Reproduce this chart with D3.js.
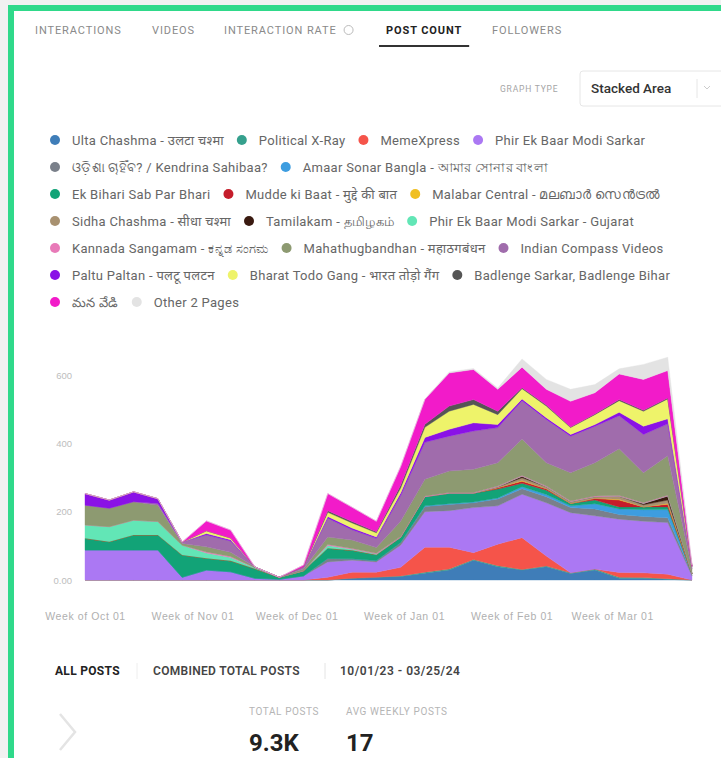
<!DOCTYPE html>
<html>
<head>
<meta charset="utf-8">
<script src="https://cdn.jsdelivr.net/npm/d3@7"></script>
<style>
  html, body { margin: 0; padding: 0; background: #f1f1f1; }
  svg { display: block; font-family: Roboto, "Noto Sans", "Open Sans", sans-serif; }
</style>
</head>
<body>
<svg id="chart" width="721" height="758"></svg>
<script>
// Weekly post counts per page, Oct 2023 – Mar 2024
const weekStarts = d3.timeWeek.range(new Date(2023, 9, 1), new Date(2024, 2, 25));

const seriesNames = [
  "Ulta Chashma - उलटा चश्मा",
  "Political X-Ray",
  "MemeXpress",
  "Phir Ek Baar Modi Sarkar",
  "ଓଡ଼ିଶା ଚାହିଁବ? / Kendrina Sahibaa?",
  "Amaar Sonar Bangla - আমার সোনার বাংলা",
  "Ek Bihari Sab Par Bhari",
  "Mudde ki Baat - मुद्दे की बात",
  "Malabar Central - മലബാർ സെൻട്രൽ",
  "Sidha Chashma - सीधा चश्मा",
  "Tamilakam - தமிழகம்",
  "Phir Ek Baar Modi Sarkar - Gujarat",
  "Kannada Sangamam - ಕನ್ನಡ ಸಂಗಮ",
  "Mahathugbandhan - महाठगबंधन",
  "Indian Compass Videos",
  "Paltu Paltan - पलटू पलटन",
  "Bharat Todo Gang - भारत तोड़ो गैंग",
  "Badlenge Sarkar, Badlenge Bihar",
  "మన వేడి",
  "Other 2 Pages"
];

const seriesColors = [
  "#3f7db8", "#35a08d", "#f5544a", "#ab78f3", "#7a808a",
  "#3d9de0", "#12a377", "#c51d2b", "#f0bf22", "#a89170",
  "#3a1a10", "#62e6b6", "#e87ab8", "#8d9a71", "#a06cac",
  "#8a12e6", "#eef36a", "#555555", "#f21bc9", "#e3e3e3"
];

// one array per page, one value per week
const ultaChashma      = [0,0,0,0,0,0,0,0,0,0,0,5,8,10,20,29,58,39,29,39,19,29,5,5,2,0];
const politicalXRay    = [0,0,0,0,0,0,0,0,0,0,0,0,0,2,3,3,2,3,2,2,2,3,3,2,2,0];
const memeXpress       = [0,0,0,0,0,0,0,0,0,0,8,18,15,25,73,64,20,63,93,29,0,0,14,14,13,0];
const phirEkBaar       = [88,88,88,88,8,29,24,5,2,12,45,35,30,65,104,107,132,112,127,156,176,156,156,151,151,12];
const odiaPage         = [0,0,0,0,0,0,0,0,0,0,10,4,4,8,15,18,14,20,16,18,15,20,14,14,14,6];
const amaarSonarBangla = [0,0,0,0,0,0,0,0,0,0,0,0,0,0,2,2,2,3,6,6,5,15,16,20,24,0];
const ekBihari         = [34,24,44,44,65,35,32,28,6,15,30,25,17,15,27,31,26,26,10,13,7,11,6,8,8,0];
const muddeKiBaat      = [0,0,0,0,0,0,0,0,0,0,0,0,0,0,0,0,0,4,6,4,0,5,20,0,8,0];
const malabarCentral   = [0,0,0,0,0,0,0,0,0,0,0,0,0,0,0,0,0,0,2,0,0,0,2,0,2,0];
const sidhaChashma     = [0,0,0,0,0,0,0,0,0,0,0,0,0,0,0,0,0,3,8,6,5,5,9,6,10,0];
const tamilakam        = [0,0,0,0,0,0,0,0,0,0,0,0,0,0,0,0,0,0,5,0,0,0,0,4,12,0];
const phirEkBaarGuj    = [39,44,43,39,29,15,10,3,0,0,8,3,2,0,0,0,0,0,0,0,0,0,0,0,0,0];
const kannadaSangamam  = [0,0,0,0,0,3,3,0,0,0,3,2,2,2,2,2,2,2,2,2,2,2,2,2,2,2];
const mahathugbandhan  = [58,54,54,48,5,15,12,2,0,5,22,25,17,45,49,63,68,68,107,68,83,97,137,88,116,12];
const indianCompass    = [0,0,0,5,4,35,33,0,0,7,55,30,27,75,108,102,112,103,112,127,107,107,97,112,93,8];
const paltuPaltan      = [34,24,29,14,0,4,4,0,0,0,5,5,4,8,14,20,24,9,5,5,5,5,10,24,15,0];
const bharatTodoGang   = [0,0,0,0,0,8,5,0,0,0,12,15,12,14,30,53,54,29,30,34,20,29,34,44,58,0];
const badlengeSarkar   = [0,0,0,0,0,0,0,0,0,0,5,4,3,8,9,15,14,10,3,3,2,2,3,3,3,0];
const teluguPage       = [0,0,0,0,0,29,23,0,0,5,50,42,31,55,73,97,88,64,60,46,75,62,75,90,80,4];
const otherPages       = [0,0,0,0,0,0,0,0,0,0,0,0,0,0,0,3,3,4,24,29,35,24,15,44,39,3];

const seriesValues = [
  ultaChashma, politicalXRay, memeXpress, phirEkBaar, odiaPage,
  amaarSonarBangla, ekBihari, muddeKiBaat, malabarCentral, sidhaChashma,
  tamilakam, phirEkBaarGuj, kannadaSangamam, mahathugbandhan, indianCompass,
  paltuPaltan, bharatTodoGang, badlengeSarkar, teluguPage, otherPages
];

const yTickValues = [0, 200, 400, 600];
const yTickLabels = ["0.00", "200", "400", "600"];
const xTickDates  = [new Date(2023, 9, 1), new Date(2023, 10, 1), new Date(2023, 11, 1),
                     new Date(2024, 0, 1), new Date(2024, 1, 1), new Date(2024, 2, 1)];
const xTickLabels = ["Week of Oct 01", "Week of Nov 01", "Week of Dec 01",
                     "Week of Jan 01", "Week of Feb 01", "Week of Mar 01"];

const tabLabels = ["INTERACTIONS", "VIDEOS", "INTERACTION RATE", "POST COUNT", "FOLLOWERS"];
const activeTab = "POST COUNT";
const legendRowSizes = [4, 2, 3, 3, 3, 3, 2];

const totalPosts = "9.3K";
const avgWeeklyPosts = "17";
const dateRange = "10/01/23 - 03/25/24";

// ---------- build ----------
const svg = d3.select("#chart");

// framed card
svg.append("rect").attr("x", 11).attr("y", 8).attr("width", 760).attr("height", 800)
  .attr("fill", "#ffffff").attr("stroke", "#2fd98a").attr("stroke-width", 6);

// tabs
const tabX = [35, 152, 224, 386, 492];
const tabs = svg.append("g").attr("font-size", 11).attr("letter-spacing", "0.9");
tabLabels.forEach((t, i) => {
  const active = t === activeTab;
  const txt = tabs.append("text").attr("x", tabX[i]).attr("y", 34)
    .attr("fill", active ? "#222" : "#8a8a8a")
    .attr("font-weight", active ? 700 : 400)
    .text(t);
  const w = txt.node().getComputedTextLength();
  if (t === "INTERACTION RATE") {
    tabs.append("circle").attr("cx", tabX[i] + w + 12).attr("cy", 30).attr("r", 4.5)
      .attr("fill", "none").attr("stroke", "#bbb").attr("stroke-width", 1);
  }
  if (active) {
    tabs.append("rect").attr("x", tabX[i] - 7).attr("y", 45).attr("width", w + 14).attr("height", 2)
      .attr("fill", "#333");
  }
});

// graph type selector
svg.append("text").attr("x", 500).attr("y", 92).attr("font-size", 8.5).attr("fill", "#a5a5a5")
  .attr("letter-spacing", "0.8").text("GRAPH TYPE");
svg.append("rect").attr("x", 580).attr("y", 71).attr("width", 150).attr("height", 35).attr("rx", 3)
  .attr("fill", "#fff").attr("stroke", "#e6e6e6");
svg.append("text").attr("x", 591).attr("y", 93).attr("font-size", 13.5).attr("fill", "#333")
  .attr("font-weight", 500).text("Stacked Area");
svg.append("line").attr("x1", 697).attr("x2", 697).attr("y1", 79).attr("y2", 98).attr("stroke", "#e6e6e6");
svg.append("path").attr("d", "M704,86 l3,3 l3,-3").attr("fill", "none").attr("stroke", "#ccc");

// legend
const legend = svg.append("g").attr("font-size", 13).attr("letter-spacing", "0.3").attr("fill", "#666");
let idx = 0;
legendRowSizes.forEach((n, r) => {
  let cx = 55;
  const cy = 140 + r * 27;
  for (let k = 0; k < n; k++, idx++) {
    legend.append("circle").attr("cx", cx).attr("cy", cy).attr("r", 5).attr("fill", seriesColors[idx]);
    const t = legend.append("text").attr("x", cx + 17).attr("y", cy + 4.5).text(seriesNames[idx]);
    cx += 17 + t.node().getComputedTextLength() + 18;
  }
});

// stacked area
const table = weekStarts.map((d, i) => {
  const row = { date: d };
  seriesNames.forEach((name, s) => { row[name] = seriesValues[s][i]; });
  return row;
});

const x = d3.scaleTime().domain(d3.extent(weekStarts)).range([85, 692]);
const y = d3.scaleLinear().domain([0, 600]).range([580, 375]);

const stacked = d3.stack().keys(seriesNames)(table);
const area = d3.area()
  .x(d => x(d.data.date))
  .y0(d => y(d[0]))
  .y1(d => y(d[1]))
  .curve(d3.curveLinear);

svg.append("g").selectAll("path").data(stacked).join("path")
  .attr("d", area)
  .attr("fill", (d, i) => seriesColors[i])
  .attr("stroke", (d, i) => seriesColors[i])
  .attr("stroke-width", 0.4);

// y axis
const yAxis = svg.append("g").attr("transform", "translate(72,0)")
  .call(d3.axisLeft(y).tickValues(yTickValues).tickSize(0).tickPadding(0)
    .tickFormat((d, i) => yTickLabels[i]));
yAxis.select(".domain").remove();
yAxis.selectAll("text").attr("font-size", 9.5).attr("fill", "#bdbdbd").attr("font-family", null);

// x axis
const xAxis = svg.append("g").attr("transform", "translate(0,607)")
  .call(d3.axisBottom(x).tickValues(xTickDates).tickSize(0).tickPadding(6)
    .tickFormat((d, i) => xTickLabels[i]));
xAxis.select(".domain").remove();
xAxis.selectAll("text").attr("font-size", 10.5).attr("letter-spacing", "0.6")
  .attr("fill", "#b0b0b0").attr("font-family", null);

// summary bar
const summary = svg.append("g").attr("font-size", 12).attr("letter-spacing", "0.3").attr("font-weight", 700);
summary.append("text").attr("x", 55).attr("y", 675).attr("fill", "#222").text("ALL POSTS");
summary.append("line").attr("x1", 137).attr("x2", 137).attr("y1", 663).attr("y2", 679).attr("stroke", "#eeeeee");
summary.append("text").attr("x", 153).attr("y", 675).attr("fill", "#444").attr("font-weight", 600)
  .text("COMBINED TOTAL POSTS");
summary.append("line").attr("x1", 325).attr("x2", 325).attr("y1", 663).attr("y2", 679).attr("stroke", "#e4e4e4");
summary.append("text").attr("x", 340).attr("y", 675).attr("fill", "#444").attr("font-weight", 600)
  .attr("letter-spacing", "0.5").text(dateRange);

// chevron
svg.append("path").attr("d", "M60,714 L75,732 L60,750").attr("fill", "none")
  .attr("stroke", "#e4e4e4").attr("stroke-width", 2.5);

// totals
const stats = [
  { label: "TOTAL POSTS", value: totalPosts, x: 249 },
  { label: "AVG WEEKLY POSTS", value: avgWeeklyPosts, x: 346 }
];
stats.forEach(s => {
  svg.append("text").attr("x", s.x).attr("y", 715).attr("font-size", 10).attr("letter-spacing", "0.6")
    .attr("fill", "#b5b5b5").text(s.label);
  svg.append("text").attr("x", s.x).attr("y", 751).attr("font-size", 24).attr("font-weight", 700)
    .attr("fill", "#222").text(s.value);
});
</script>
</body>
</html>
